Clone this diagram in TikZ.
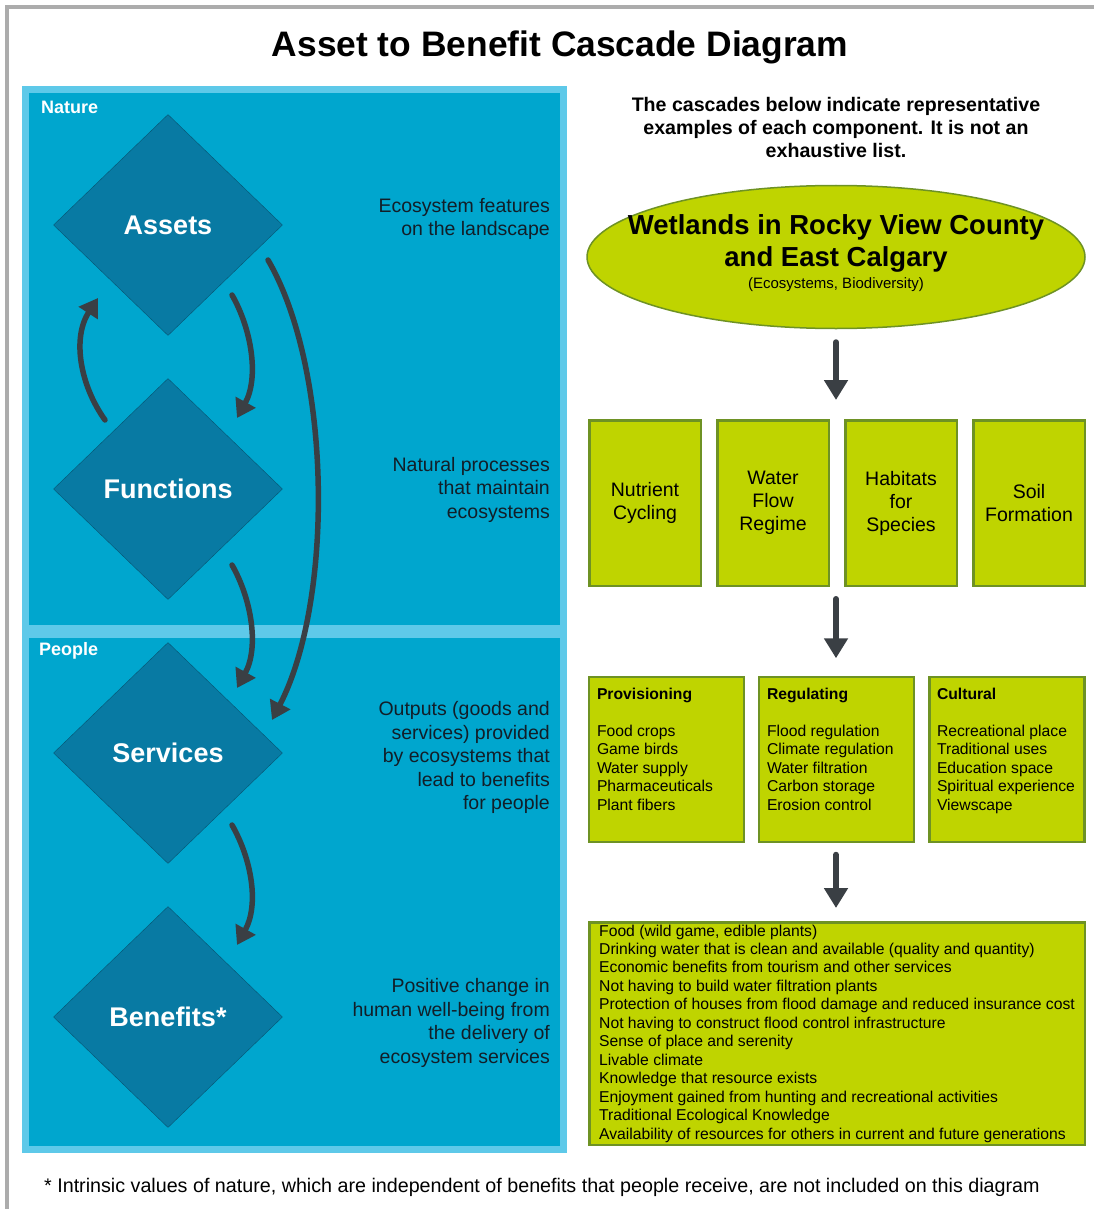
\documentclass[tikz,border=0pt]{standalone}
\usepackage{fontspec}
\setmainfont{Liberation Sans}
\usetikzlibrary{shapes.geometric,arrows.meta}
\newcommand{\fsz}[2]{\fontsize{#1}{#2}\selectfont}
\definecolor{panelblue}{RGB}{0,166,206}
\definecolor{edgeblue}{RGB}{94,201,233}
\definecolor{diablue}{RGB}{8,122,163}
\definecolor{leaf}{RGB}{191,212,0}
\definecolor{leafedge}{RGB}{110,146,36}
\definecolor{arrgray}{RGB}{58,63,68}
\definecolor{ink}{RGB}{18,30,40}
\definecolor{framegray}{RGB}{172,172,172}
\tikzset{every picture/.style={x=1pt,y=-1pt}}
\tikzset{panel/.style={draw=edgeblue,fill=panelblue,line width=7pt}}
\tikzset{stage/.style={diamond,draw=diablue!70!black,fill=diablue,minimum width=229pt,minimum height=221pt,inner sep=0pt,text=white,font=\bfseries\fsz{27}{32}}}
\tikzset{tag/.style={anchor=west,text=white,inner sep=0pt,font=\bfseries\fsz{18}{22}}}
\tikzset{descr/.style={anchor=east,align=right,text=ink,inner sep=0pt,font=\fsz{19.5}{23.5}}}
\tikzset{cycarrow/.style={draw=arrgray,line width=5.5pt,line cap=round,-{Triangle[length=18pt,width=22pt]}}}
\tikzset{cascade/.style={draw=arrgray,line width=6pt,line cap=round,-{Triangle[length=20pt,width=23pt]}}}
\tikzset{fnbox/.style={draw=leafedge,fill=leaf,line width=2.5pt,minimum width=111.5pt,minimum height=165.5pt,inner sep=0pt,align=center,font=\fsz{19.5}{23}}}
\tikzset{svbox/.style={draw=leafedge,fill=leaf,line width=2.5pt,minimum width=155pt,minimum height=165pt,inner sep=0pt,font=\fsz{15.7}{18.5}}}

\begin{document}
\begin{tikzpicture}
\useasboundingbox (0,0) rectangle (1094,1209);
\draw [framegray,line width=3.5pt] (7,1209) -- (7,7) -- (1094,7);

\node [font=\bfseries\fsz{35.4}{40}] (title) at (560,47) {Asset to Benefit Cascade Diagram};

\draw [panel] (25.5,89.5) rectangle (563.5,628);
\draw [panel] (25.5,634) rectangle (563.5,1149.5);
\node [tag] (naturetag) at (41,107) {Nature};
\node [tag] (peopletag) at (39,651) {People};

\node [stage] (assets) at (168,225) {Assets};
\node [stage] (functions) at (168,489) {Functions};
\node [stage] (services) at (168,753) {Services};
\node [stage] (benefits) at (168,1017) {Benefits*};

\draw [cycarrow] ([shift={(-63,-69)}]functions.center) .. controls +(-25,-35) and +(-26,40) .. ([shift={(-70,73)}]assets.center);
\draw [cycarrow] ([shift={(64,70)}]assets.center) .. controls +(20,35) and +(22,-40) .. ([shift={(69,-71)}]functions.center);
\draw [cycarrow] ([shift={(64,76)}]functions.center) .. controls +(20,35) and +(22,-40) .. ([shift={(69,-65)}]services.center);
\draw [cycarrow] ([shift={(100,35)}]assets.center) .. controls +(64,110) and +(62,-120) .. ([shift={(104,-33)}]services.center);
\draw [cycarrow] ([shift={(64,72)}]services.center) .. controls +(20,35) and +(22,-40) .. ([shift={(69,-72)}]benefits.center);

\node [descr] (d-assets) at (550,219) {Ecosystem features\\on the landscape};
\node [descr] (d-functions) at (550,489.5) {Natural processes\\that maintain\\ecosystems};
\node [descr] (d-services) at (550,757.5) {Outputs (goods and\\services) provided\\by ecosystems that\\lead to benefits\\for people};
\node [descr] (d-benefits) at (550,1023) {Positive change in\\human well-being from\\the delivery of\\ecosystem services};

\node [align=center,font=\bfseries\fsz{19.6}{23}] (intro) at (836,127) {The cascades below indicate representative\\examples of each component. It is not an\\exhaustive list.};

\node [ellipse,draw=leafedge,fill=leaf,line width=1.5pt,minimum width=498pt,minimum height=143pt,inner sep=0pt] (wetland) at (836,257) {};
\node [align=center,font=\bfseries\fsz{27.5}{32}] (wet-name) at (836,243) {Wetlands in Rocky View County\\and East Calgary};
\node [font=\fsz{15}{18}] (wet-kind) at (836,285) {(Ecosystems, Biodiversity)};

\node [fnbox] (nutrient) at (645,503) {Nutrient\\Cycling};
\node [fnbox] (water) at (773,503) {Water\\Flow\\Regime};
\node [fnbox] (habitat) at (901,503) {Habitats\\for\\Species};
\node [fnbox] (soil) at (1029,503) {Soil\\Formation};

\node [svbox] (prov) at (666.5,759.5) {\parbox[t][143pt][t]{139pt}{\textbf{Provisioning}\\[18.5pt]Food crops\\Game birds\\Water supply\\Pharmaceuticals\\Plant fibers}};
\node [svbox] (reg) at (836.5,759.5) {\parbox[t][143pt][t]{139pt}{\textbf{Regulating}\\[18.5pt]Flood regulation\\Climate regulation\\Water filtration\\Carbon storage\\Erosion control}};
\node [svbox] (cult) at (1007,759.5) {\parbox[t][143pt][t]{140pt}{\textbf{Cultural}\\[18.5pt]Recreational place\\Traditional uses\\Education space\\Spiritual experience\\Viewscape}};

\node [draw=leafedge,fill=leaf,line width=2.5pt,minimum width=495.5pt,minimum height=222.5pt,inner sep=0pt,align=left,font=\fsz{15.7}{18.45}] (gains) at (837,1033.5) {Food (wild game, edible plants)\\Drinking water that is clean and available (quality and quantity)\\Economic benefits from tourism and other services\\Not having to build water filtration plants\\Protection of houses from flood damage and reduced insurance cost\\Not having to construct flood control infrastructure\\Sense of place and serenity\\Livable climate\\Knowledge that resource exists\\Enjoyment gained from hunting and recreational activities\\Traditional Ecological Knowledge\\Availability of resources for others in current and future generations};

\draw [cascade,shorten <=13pt,shorten >=19pt] (wetland.south) -- (water.north -| wetland);
\draw [cascade,shorten <=12pt,shorten >=17.5pt] (water.south -| wetland) -- (reg.north -| wetland);
\draw [cascade,shorten <=11.5pt,shorten >=13pt] (reg.south -| wetland) -- (gains.north -| wetland);

\node [anchor=west,inner sep=0pt,font=\fsz{19.7}{23}] (note) at (44,1187) {* Intrinsic values of nature, which are independent of benefits that people receive, are not included on this diagram};
\end{tikzpicture}
\end{document}
